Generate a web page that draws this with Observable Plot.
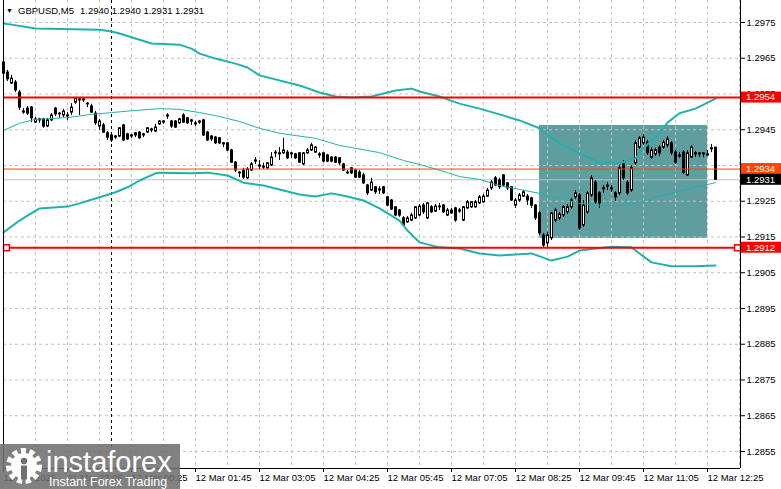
<!DOCTYPE html>
<html>
<head>
<meta charset="utf-8">
<script src="https://cdn.jsdelivr.net/npm/d3@7"></script>
<script src="https://cdn.jsdelivr.net/npm/@observablehq/plot@0.6"></script>
<style>
html,body{margin:0;padding:0;background:#fff;}
#wrap{position:relative;width:781px;height:489px;overflow:hidden;background:#fff;}
#wm{position:absolute;left:0;top:444px;}
</style>
</head>
<body>
<div id="wrap"></div>
<script>
// ---- Data (GBPUSD M5, bar index 0 = 11 Mar 21:45) ----
const symbol = "GBPUSD";
const timeframe = "M5";

const opens = [1.29638,1.29610,1.29579,1.29582,1.29554,1.29501,1.29509,1.29512,1.29470,1.29479,
1.29479,1.29459,1.29476,1.29509,1.29495,1.29490,1.29490,1.29498,1.29526,1.29535,
1.29535,1.29523,1.29515,1.29495,1.29459,1.29462,1.29440,1.29434,1.29431,1.29431,
1.29462,1.29437,1.29434,1.29434,1.29442,1.29437,1.29442,1.29451,1.29445,1.29465,
1.29473,1.29490,1.29473,1.29473,1.29468,1.29490,1.29482,1.29476,1.29468,1.29473,
1.29476,1.29442,1.29431,1.29428,1.29426,1.29412,1.29412,1.29392,1.29358,1.29330,
1.29336,1.29314,1.29336,1.29364,1.29350,1.29347,1.29342,1.29350,1.29386,1.29384,
1.29384,1.29386,1.29384,1.29381,1.29384,1.29353,1.29384,1.29392,1.29386,1.29381,
1.29384,1.29378,1.29372,1.29372,1.29370,1.29353,1.29330,1.29342,1.29336,1.29330,
1.29322,1.29294,1.29280,1.29289,1.29283,1.29289,1.29261,1.29252,1.29233,1.29224,
1.29202,1.29191,1.29196,1.29202,1.29210,1.29238,1.29202,1.29233,1.29221,1.29235,
1.29238,1.29210,1.29224,1.29230,1.29224,1.29196,1.29230,1.29233,1.29233,1.29244,
1.29247,1.29263,1.29286,1.29314,1.29308,1.29322,1.29300,1.29289,1.29238,1.29252,
1.29263,1.29263,1.29258,1.29238,1.29216,1.29154,1.29132,1.29146,1.29196,1.29202,
1.29210,1.29219,1.29233,1.29261,1.29266,1.29182,1.29219,1.29266,1.29302,1.29272,
1.29286,1.29294,1.29286,1.29272,1.29272,1.29356,1.29302,1.29280,1.29356,1.29400,
1.29412,1.29414,1.29372,1.29381,1.29400,1.29400,1.29406,1.29412,1.29386,1.29378,
1.29386,1.29322,1.29372,1.29384,1.29384,1.29384,1.29381,1.29398,1.29400];

const highs = [1.29649,1.29616,1.29602,1.29588,1.29560,1.29509,1.29515,1.29515,1.29484,1.29482,
1.29482,1.29482,1.29495,1.29512,1.29498,1.29507,1.29498,1.29523,1.29540,1.29540,
1.29537,1.29526,1.29521,1.29501,1.29479,1.29468,1.29445,1.29437,1.29434,1.29456,
1.29465,1.29440,1.29437,1.29442,1.29445,1.29440,1.29456,1.29454,1.29465,1.29476,
1.29476,1.29495,1.29476,1.29476,1.29482,1.29495,1.29484,1.29479,1.29473,1.29476,
1.29479,1.29445,1.29434,1.29431,1.29428,1.29414,1.29414,1.29395,1.29361,1.29333,
1.29342,1.29344,1.29358,1.29372,1.29364,1.29356,1.29358,1.29386,1.29392,1.29400,
1.29426,1.29392,1.29386,1.29384,1.29386,1.29386,1.29398,1.29412,1.29403,1.29386,
1.29386,1.29381,1.29375,1.29375,1.29372,1.29356,1.29336,1.29344,1.29339,1.29336,
1.29328,1.29297,1.29314,1.29291,1.29291,1.29291,1.29263,1.29255,1.29235,1.29227,
1.29207,1.29207,1.29216,1.29235,1.29241,1.29244,1.29247,1.29238,1.29241,1.29244,
1.29241,1.29230,1.29230,1.29233,1.29230,1.29235,1.29252,1.29249,1.29252,1.29266,
1.29269,1.29286,1.29308,1.29319,1.29314,1.29325,1.29302,1.29291,1.29258,1.29272,
1.29280,1.29269,1.29261,1.29241,1.29221,1.29160,1.29163,1.29219,1.29230,1.29219,
1.29238,1.29241,1.29258,1.29280,1.29272,1.29252,1.29277,1.29322,1.29308,1.29277,
1.29294,1.29302,1.29294,1.29277,1.29350,1.29364,1.29308,1.29350,1.29420,1.29431,
1.29437,1.29420,1.29400,1.29398,1.29406,1.29420,1.29431,1.29417,1.29392,1.29386,
1.29392,1.29392,1.29406,1.29389,1.29386,1.29386,1.29392,1.29409,1.29400];

const lows = [1.29599,1.29585,1.29577,1.29554,1.29504,1.29493,1.29490,1.29470,1.29468,1.29468,
1.29454,1.29456,1.29473,1.29487,1.29482,1.29484,1.29476,1.29490,1.29521,1.29490,
1.29526,1.29512,1.29495,1.29462,1.29448,1.29440,1.29420,1.29414,1.29423,1.29428,
1.29417,1.29420,1.29426,1.29428,1.29423,1.29428,1.29440,1.29442,1.29442,1.29462,
1.29465,1.29479,1.29454,1.29454,1.29465,1.29468,1.29465,1.29462,1.29459,1.29465,
1.29431,1.29417,1.29417,1.29409,1.29409,1.29400,1.29389,1.29356,1.29330,1.29316,
1.29311,1.29311,1.29333,1.29353,1.29339,1.29339,1.29339,1.29347,1.29372,1.29364,
1.29381,1.29367,1.29370,1.29367,1.29356,1.29350,1.29381,1.29389,1.29384,1.29370,
1.29358,1.29358,1.29358,1.29356,1.29350,1.29333,1.29325,1.29325,1.29314,1.29314,
1.29297,1.29266,1.29277,1.29269,1.29269,1.29269,1.29235,1.29224,1.29207,1.29205,
1.29179,1.29188,1.29193,1.29199,1.29207,1.29213,1.29199,1.29216,1.29219,1.29224,
1.29216,1.29207,1.29213,1.29191,1.29216,1.29193,1.29227,1.29230,1.29230,1.29241,
1.29244,1.29261,1.29280,1.29291,1.29283,1.29289,1.29280,1.29249,1.29230,1.29247,
1.29261,1.29238,1.29230,1.29196,1.29154,1.29118,1.29121,1.29140,1.29191,1.29196,
1.29205,1.29213,1.29227,1.29255,1.29168,1.29177,1.29213,1.29261,1.29241,1.29230,
1.29272,1.29280,1.29275,1.29249,1.29266,1.29308,1.29266,1.29275,1.29350,1.29395,
1.29406,1.29378,1.29367,1.29375,1.29375,1.29395,1.29400,1.29378,1.29353,1.29370,
1.29325,1.29319,1.29370,1.29372,1.29372,1.29372,1.29375,1.29386,1.29310];

const closes = [1.29607,1.29591,1.29593,1.29560,1.29512,1.29498,1.29495,1.29482,1.29479,1.29476,
1.29459,1.29476,1.29490,1.29493,1.29493,1.29501,1.29487,1.29512,1.29537,1.29532,
1.29532,1.29521,1.29498,1.29468,1.29473,1.29442,1.29428,1.29420,1.29428,1.29454,
1.29420,1.29423,1.29431,1.29440,1.29426,1.29434,1.29454,1.29448,1.29456,1.29473,
1.29470,1.29487,1.29459,1.29456,1.29479,1.29470,1.29468,1.29473,1.29465,1.29470,
1.29434,1.29420,1.29423,1.29412,1.29412,1.29409,1.29392,1.29358,1.29336,1.29328,
1.29316,1.29339,1.29353,1.29361,1.29347,1.29344,1.29356,1.29372,1.29384,1.29381,
1.29392,1.29370,1.29381,1.29370,1.29358,1.29384,1.29392,1.29406,1.29400,1.29378,
1.29361,1.29361,1.29361,1.29358,1.29356,1.29336,1.29328,1.29328,1.29316,1.29316,
1.29300,1.29272,1.29302,1.29275,1.29280,1.29272,1.29238,1.29227,1.29210,1.29210,
1.29182,1.29202,1.29210,1.29233,1.29235,1.29219,1.29244,1.29219,1.29235,1.29233,
1.29219,1.29224,1.29216,1.29196,1.29221,1.29233,1.29247,1.29247,1.29247,1.29261,
1.29263,1.29280,1.29302,1.29294,1.29289,1.29294,1.29286,1.29252,1.29252,1.29266,
1.29275,1.29252,1.29238,1.29202,1.29160,1.29126,1.29154,1.29216,1.29224,1.29213,
1.29233,1.29233,1.29252,1.29272,1.29174,1.29238,1.29272,1.29314,1.29247,1.29244,
1.29283,1.29291,1.29283,1.29261,1.29342,1.29314,1.29272,1.29342,1.29412,1.29426,
1.29428,1.29384,1.29392,1.29392,1.29384,1.29414,1.29423,1.29384,1.29358,1.29375,
1.29330,1.29384,1.29400,1.29381,1.29381,1.29381,1.29378,1.29395,1.29310];

// Bollinger bands (bar index, price)
const upperIdx = [0,2,8,24,27,29,33,37,44,47,49,53,58,61,64,74,79,83,87,92,98,102,104,109,114,119,124,129,134,139,144,149,154,158,160,164,166,169,173,176,178];
const upperVal = [1.29747,1.29744,1.29733,1.29730,1.29725,1.29719,1.29705,1.29691,1.29688,1.29677,1.29663,1.29649,1.29635,1.29624,1.29602,1.29574,1.29554,1.29543,1.29540,1.29543,1.29560,1.29565,1.29557,1.29543,1.29523,1.29509,1.29493,1.29476,1.29454,1.29412,1.29384,1.29358,1.29356,1.29370,1.29398,1.29440,1.29470,1.29496,1.29509,1.29526,1.29537];
const middleIdx = [0,4,8,16,22,27,33,39,44,49,54,59,64,69,78,84,94,100,104,111,114,119,124,129,134,139,144,149,154,158,163,168,173,178];
const middleVal = [1.29448,1.29468,1.29479,1.29484,1.29493,1.29498,1.29504,1.29509,1.29507,1.29498,1.29487,1.29473,1.29454,1.29440,1.29426,1.29406,1.29386,1.29364,1.29353,1.29330,1.29319,1.29311,1.29294,1.29283,1.29272,1.29258,1.29244,1.29238,1.29238,1.29244,1.29261,1.29275,1.29289,1.29302];
const lowerIdx = [0,4,6,9,16,19,24,28,31,34,38,39,47,51,56,60,65,74,78,82,86,90,94,99,101,104,109,114,119,124,132,137,141,144,152,157,159,162,167,173,178];
const lowerVal = [1.29163,1.29196,1.29210,1.29230,1.29235,1.29244,1.29261,1.29275,1.29289,1.29308,1.29328,1.29330,1.29328,1.29330,1.29322,1.29302,1.29294,1.29269,1.29263,1.29272,1.29263,1.29252,1.29230,1.29196,1.29168,1.29135,1.29121,1.29118,1.29104,1.29098,1.29104,1.29084,1.29095,1.29112,1.29123,1.29121,1.29104,1.29079,1.29068,1.29068,1.29070];

// Levels
const resistance = 1.2954;
const support = 1.2912;
const entryLevel = 1.2934;
const bidPrice = 1.2931;

// Highlight zone
const zoneStart = 134, zoneEnd = 176, zoneTop = 1.29462, zoneBottom = 1.29146;

// Axis ticks
const xTickIdx = [0,16,32,48,64,80,96,112,128,144,160,176];
const xTickLabels = ["11 Mar 2025","11 Mar 23:05","12 Mar 00:25","12 Mar 01:45","12 Mar 03:05","12 Mar 04:25","12 Mar 05:45","12 Mar 07:05","12 Mar 08:25","12 Mar 09:45","12 Mar 11:05","12 Mar 12:25"];
const yTicks = [1.2855,1.2865,1.2875,1.2885,1.2895,1.2905,1.2915,1.2925,1.2935,1.2945,1.2955,1.2965,1.2975];
const vGridIdx = [8,16,24,32,40,48,56,64,72,80,88,96,104,112,120,128,136,144,152,160,168,176,184];
const daySeparator = 27;
const xDomain = [0, 184.25];
const yDomain = [1.285024, 1.298115];

// ---- Build ----
const bars = opens.map((o, i) => ({i, o, h: highs[i], l: lows[i], c: closes[i]}));
const upper = upperIdx.map((i, k) => ({i, v: upperVal[k]}));
const middle = middleIdx.map((i, k) => ({i, v: middleVal[k]}));
const lower = lowerIdx.map((i, k) => ({i, v: lowerVal[k]}));
const zone = [{x1: zoneStart, x2: zoneEnd, y1: zoneBottom, y2: zoneTop}];

const FONT = "'Liberation Sans', Arial, sans-serif";
const TEAL = "#20b2aa";
const GRID = "#c0c0c0";

const marks = [
  Plot.rect(zone, {x1: "x1", x2: "x2", y1: "y1", y2: "y2", fill: "#5f9ea0"}),
  Plot.ruleY(yTicks, {stroke: GRID, strokeDasharray: "3,3"}),
  Plot.ruleX(vGridIdx, {stroke: GRID, strokeDasharray: "3,3"}),
  Plot.ruleX([daySeparator], {stroke: "#000", strokeDasharray: "3,3"}),
  Plot.ruleY([bidPrice], {stroke: "#c0c0c0"}),
  Plot.ruleX(bars, {x: "i", y1: "l", y2: "h", stroke: "#000"}),
  Plot.rect(bars, {x1: d => d.i - 0.125, x2: d => d.i + 0.375, y1: "o", y2: "c",
    fill: d => d.c > d.o ? "#fff" : "#000", stroke: "#000", strokeWidth: 1}),
  Plot.line(upper, {x: "i", y: "v", stroke: TEAL, strokeWidth: 2}),
  Plot.line(middle, {x: "i", y: "v", stroke: TEAL, strokeWidth: 1}),
  Plot.line(lower, {x: "i", y: "v", stroke: TEAL, strokeWidth: 2}),
  Plot.ruleY([entryLevel], {stroke: "#ff4500", strokeWidth: 1}),
  Plot.ruleY([resistance, support], {stroke: "#ff0000", strokeWidth: 2}),
  Plot.dot([support], {y: d => d, frameAnchor: "left", dx: 3, symbol: "square", r: 3.3, fill: "#fff", stroke: "#ff0000", strokeWidth: 1.5}),
  Plot.dot([support], {y: d => d, frameAnchor: "right", dx: -3, symbol: "square", r: 3.3, fill: "#fff", stroke: "#ff0000", strokeWidth: 1.5}),
  Plot.ruleY([yDomain[0]], {stroke: "#000"}),
  Plot.ruleX([xDomain[0]], {stroke: "#000"}),
  Plot.ruleX([xDomain[1]], {stroke: "#000"})
];

const hasAxisMarks = typeof Plot.axisX === "function";
if (hasAxisMarks) {
  marks.push(
    Plot.axisX(xTickIdx, {anchor: "bottom", tickFormat: d => xTickLabels[xTickIdx.indexOf(d)], textAnchor: "start", tickSize: 4, tickPadding: 2, label: null, fill: "#000", stroke: "#000"}),
    Plot.axisY(yTicks, {anchor: "right", tickFormat: d => d.toFixed(4), textAnchor: "start", tickSize: 4, tickPadding: 2, label: null, fill: "#000", stroke: "#000"})
  );
}

const chart = Plot.plot({
  width: 781, height: 489,
  marginLeft: 3, marginRight: 41, marginTop: 0, marginBottom: 21,
  style: {fontFamily: FONT, fontSize: "9.5px", color: "#000", background: "#fff", overflow: "visible"},
  x: hasAxisMarks ? {domain: xDomain} : {domain: xDomain, axis: "bottom", ticks: xTickIdx, tickFormat: d => xTickLabels[xTickIdx.indexOf(d)], tickSize: 4, label: null},
  y: hasAxisMarks ? {domain: yDomain} : {domain: yDomain, axis: "right", ticks: yTicks, tickFormat: d => d.toFixed(4), tickSize: 4, label: null},
  marks
});

document.getElementById("wrap").appendChild(chart);

// Price tags on the right axis, placed through the chart's y scale
const svg = d3.select(chart);
const yS = chart.scale("y");
const xRange = chart.scale("x").range;
const tagX = xRange[1] + 1;
const tags = [
  {value: resistance, color: "#ff0000"},
  {value: entryLevel, color: "#ff4500"},
  {value: bidPrice, color: "#000000"},
  {value: support, color: "#ff0000"}
];
const tg = svg.append("g").attr("font-family", FONT).attr("font-size", "9.5px").attr("text-anchor", "start");
tags.forEach(t => {
  const cy = yS.apply(t.value);
  tg.append("rect").attr("x", tagX).attr("y", cy - 5.5).attr("width", 781 - tagX).attr("height", 11).attr("fill", t.color);
  tg.append("text").attr("x", tagX + 5).attr("y", cy).attr("dy", "0.36em").attr("fill", "#fff").attr("text-anchor", "start").text(t.value.toFixed(4));
});

// Header
const last = bars[bars.length - 1];
const hg = svg.append("g").attr("font-family", FONT).attr("font-size", "9.5px").attr("fill", "#000").attr("text-anchor", "start");
hg.append("text").attr("x", 6).attr("y", 13).attr("font-size", "7px").attr("text-anchor", "start").text("▼");
hg.append("text").attr("x", 18).attr("y", 14).attr("text-anchor", "start").text(`${symbol},${timeframe}`);
hg.append("text").attr("x", 80).attr("y", 14).attr("text-anchor", "start").text([last.o, last.h, last.l, last.c].map(v => v.toFixed(4)).join(" "));

// Watermark
const wm = d3.select("#wrap").append("svg").attr("id", "wm").attr("width", 180).attr("height", 45);
wm.append("rect").attr("width", 180).attr("height", 45).attr("fill", "rgba(112,112,112,0.88)");
const gear = wm.append("g").attr("transform", "translate(24,22)");
gear.append("circle").attr("r", 15).attr("fill", "none").attr("stroke", "#fff").attr("stroke-width", 6).attr("stroke-dasharray", "5,3.4");
gear.append("circle").attr("r", 13).attr("fill", "#fff");
gear.append("circle").attr("cy", -5).attr("r", 3.2).attr("fill", "#707070");
gear.append("rect").attr("x", -3).attr("y", -0.5).attr("width", 6).attr("height", 14).attr("fill", "#707070");
wm.append("text").attr("x", 46).attr("y", 28).attr("font-family", FONT).attr("font-size", "29px").attr("fill", "#fff").text("instaforex");
wm.append("text").attr("x", 49).attr("y", 42).attr("font-family", FONT).attr("font-size", "12.5px").attr("fill", "#fff").text("Instant Forex Trading");
</script>
</body>
</html>
